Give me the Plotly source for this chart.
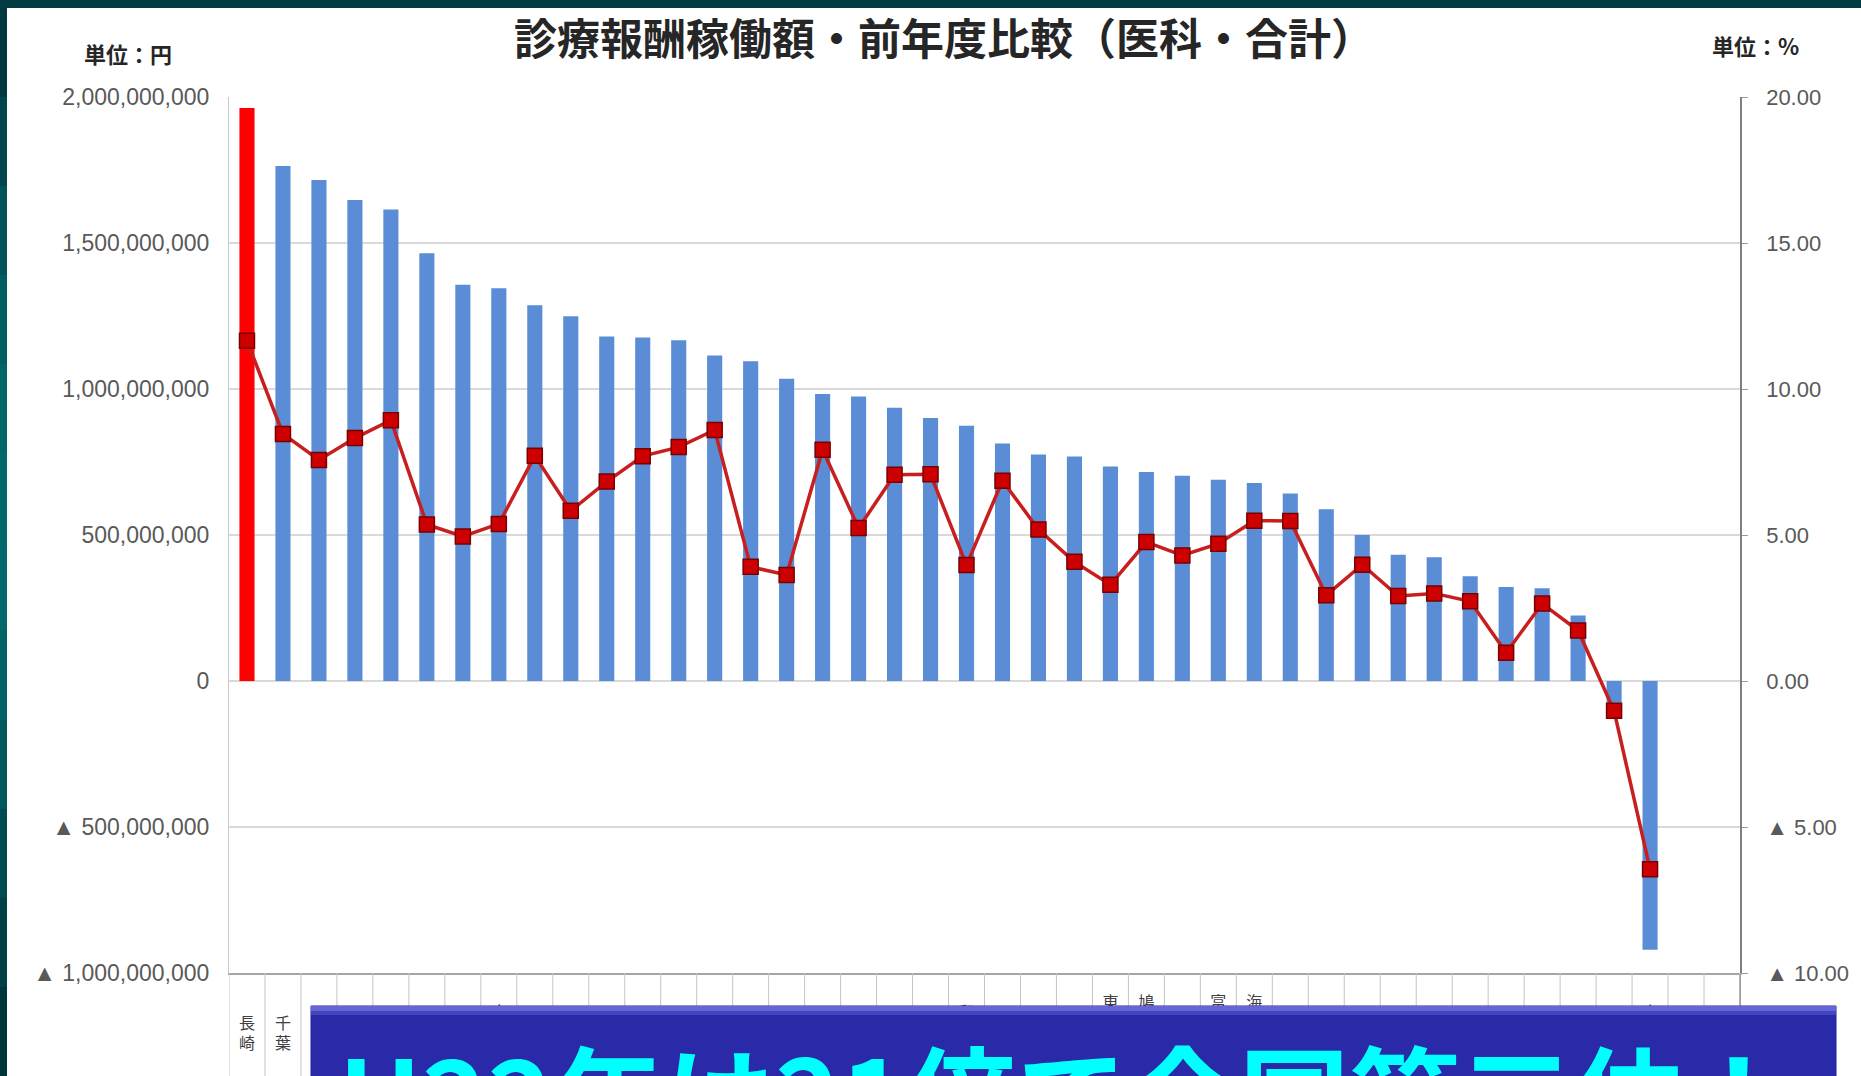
import plotly.graph_objects as go

# ---------------- data ----------------
categories = ["長崎", "千葉", "福岡", "熊本", "大分", "佐賀", "宮崎", "鹿児島", "山口", "広島",
              "岡山", "島根", "香川", "兵庫", "大阪", "京都", "奈良", "滋賀", "三重", "愛知",
              "和歌山", "岐阜", "静岡", "長野", "東久留米", "鳩ヶ谷市", "山梨", "富士吉田", "海老名市", "新潟",
              "石川", "福井", "群馬", "栃木", "茨城", "埼玉", "宮城", "岩手", "青森", "小田原"]

amount_yen = [1.962e9, 1.764e9, 1.716e9, 1.647e9, 1.615e9, 1.465e9, 1.357e9, 1.345e9, 1.287e9, 1.249e9,
              1.180e9, 1.176e9, 1.167e9, 1.115e9, 1.095e9, 1.035e9, 0.983e9, 0.974e9, 0.936e9, 0.901e9,
              0.874e9, 0.813e9, 0.776e9, 0.769e9, 0.735e9, 0.716e9, 0.703e9, 0.689e9, 0.678e9, 0.642e9,
              0.588e9, 0.500e9, 0.432e9, 0.424e9, 0.359e9, 0.322e9, 0.318e9, 0.224e9, -0.075e9, -0.920e9]

ratio_pct = [11.65, 8.46, 7.57, 8.32, 8.93, 5.36, 4.95, 5.38, 7.71, 5.83,
             6.83, 7.70, 8.01, 8.60, 3.91, 3.63, 7.92, 5.24, 7.06, 7.08,
             3.97, 6.86, 5.19, 4.08, 3.30, 4.76, 4.30, 4.70, 5.49, 5.48,
             2.94, 3.98, 2.91, 3.00, 2.73, 0.97, 2.65, 1.73, -1.02, -6.45]

left_tickvals = [-1e9, -5e8, 0, 5e8, 1e9, 1.5e9, 2e9]
left_ticktext = ["▲ 1,000,000,000", "▲ 500,000,000", "0", "500,000,000",
                 "1,000,000,000", "1,500,000,000", "2,000,000,000"]
right_tickvals = [-10, -5, 0, 5, 10, 15, 20]
right_ticktext = ["▲ 10.00", "▲ 5.00", "0.00", "5.00", "10.00", "15.00", "20.00"]

title_text = "診療報酬稼働額・前年度比較（医科・合計）"
unit_left = "単位：円"
unit_right = "単位：%"
banner_text = "H22年は21倍で全国第三位！"

# ---------------- geometry helpers ----------------
W, H = 1861, 1076
PL, PR, PT, PB = 229, 1740, 97, 973      # main plot area in px
N_SLOTS = 42
MAIN_BOTTOM = (H - PB) / (H - PT)        # paper fraction where main plot starts
LABEL_CENTER_PX = 1035


def px_x(x):
    return (x - PL) / (PR - PL)


def px_y(y):
    return (H - y) / (H - PT)


BLUE = "#5a8dd5"
RED = "#ff0000"
bar_colors = [RED if i == 0 else BLUE for i in range(len(categories))]
vertical_labels = ["<br>".join(list(c)) for c in categories]
label_pos = (H - LABEL_CENTER_PX) / (H - PB)

fig = go.Figure()

fig.add_trace(go.Bar(x=categories, y=amount_yen, marker=dict(color=bar_colors, line=dict(width=0)),
                     hoverinfo="skip", showlegend=False))

fig.add_trace(go.Scatter(x=categories, y=ratio_pct, yaxis="y2", mode="lines+markers",
                         line=dict(color="#c81e1e", width=3.5),
                         marker=dict(symbol="square", size=15, color="#cc0000",
                                     line=dict(color="#7a0000", width=1.5)),
                         hoverinfo="skip", showlegend=False))

fig.add_trace(go.Scatter(x=categories, y=[label_pos] * len(categories), yaxis="y3", mode="text",
                         text=vertical_labels, textposition="middle center",
                         textfont=dict(size=16, color="#404040", family="Noto Sans CJK JP"),
                         cliponaxis=False, hoverinfo="skip", showlegend=False))

shapes = []
# white slide
shapes.append(dict(type="rect", xref="paper", yref="paper", layer="below",
                   x0=px_x(7), x1=px_x(W + 20), y0=px_y(H + 20), y1=px_y(8),
                   fillcolor="white", line=dict(width=0)))
# left teal gradient strip
strip_cols = ["#003a40", "#00464c", "#005359", "#005e62", "#006668", "#00696a",
              "#00686a", "#006264", "#00585c", "#004b50", "#003f44", "#00363b"]
band_h = (H - 8) / len(strip_cols)
for i, c in enumerate(strip_cols):
    shapes.append(dict(type="rect", xref="paper", yref="paper", layer="below",
                       x0=px_x(-2), x1=px_x(7), y0=px_y(8 + (i + 1) * band_h + 1), y1=px_y(8 + i * band_h),
                       fillcolor=c, line=dict(width=0)))
# category separators in label area
for i in range(N_SLOTS + 1):
    shapes.append(dict(type="line", xref="x", yref="y3", layer="below",
                       x0=i - 0.5, x1=i - 0.5, y0=-0.1, y1=1,
                       line=dict(color="#c4c4c4", width=1)))
# right axis line extension
shapes.append(dict(type="line", xref="paper", yref="y3", layer="below",
                   x0=1, x1=1, y0=-0.1, y1=1, line=dict(color="#808080", width=1.5)))
# blue banner
shapes.append(dict(type="rect", xref="paper", yref="paper", layer="above",
                   x0=px_x(311), x1=px_x(1836), y0=px_y(H + 20), y1=px_y(1006),
                   fillcolor="#2a2aa8", line=dict(color="#22229a", width=1)))
shapes.append(dict(type="rect", xref="paper", yref="paper", layer="above",
                   x0=px_x(311), x1=px_x(1836), y0=px_y(1011), y1=px_y(1006),
                   fillcolor="#6565d6", line=dict(width=0)))
shapes.append(dict(type="rect", xref="paper", yref="paper", layer="above",
                   x0=px_x(311), x1=px_x(1836), y0=px_y(1015), y1=px_y(1011),
                   fillcolor="#4444bf", line=dict(width=0)))

annotations = [
    dict(text=title_text, xref="paper", yref="paper", x=px_x(944), y=px_y(36),
         xanchor="center", yanchor="middle", showarrow=False,
         font=dict(size=43, color="#262626", family="Noto Sans CJK JP", weight=700)),
    dict(text=unit_left, xref="paper", yref="paper", x=px_x(128), y=px_y(53),
         xanchor="center", yanchor="middle", showarrow=False,
         font=dict(size=22, color="#262626", family="Noto Sans CJK JP", weight=700)),
    dict(text=unit_right, xref="paper", yref="paper", x=px_x(1756), y=px_y(45),
         xanchor="center", yanchor="middle", showarrow=False,
         font=dict(size=22, color="#262626", family="Noto Sans CJK JP", weight=700)),
    dict(text=banner_text, xref="paper", yref="paper", x=px_x(336), y=px_y(1010),
         xanchor="left", yanchor="top", showarrow=False,
         font=dict(size=111, color="#00ffff", family="Noto Sans CJK JP", weight=700)),
]

fig.update_layout(
    width=W, height=H,
    margin=dict(l=PL, r=W - PR, t=PT, b=0, pad=0, autoexpand=False),
    paper_bgcolor="#003c42", plot_bgcolor="rgba(0,0,0,0)",
    bargap=0.58, showlegend=False,
    font=dict(family="Liberation Sans"),
    xaxis=dict(type="category", range=[-0.5, N_SLOTS - 0.5], showticklabels=False,
               showgrid=False, zeroline=False, showline=True, linecolor="#a6a6a6",
               linewidth=1.5, ticks="", anchor="y", automargin=False),
    yaxis=dict(domain=[MAIN_BOTTOM, 1], range=[left_tickvals[0], left_tickvals[-1]],
               tickvals=left_tickvals, ticktext=left_ticktext,
               showgrid=True, gridcolor="#d9d9d9", gridwidth=1.5, zeroline=False,
               showline=True, linecolor="#c8c8c8", linewidth=1, ticks="", automargin=False,
               ticklabelstandoff=14, tickfont=dict(size=23, color="#595959", family="Liberation Sans")),
    yaxis2=dict(range=[-10, 20], overlaying="y", side="right", tickvals=right_tickvals,
                ticktext=right_ticktext, showgrid=False, zeroline=False, showline=True,
                linecolor="#808080", linewidth=1.5, ticks="outside", ticklen=6, automargin=False,
                tickcolor="#9a9a9a", ticklabelstandoff=14,
                tickfont=dict(size=22, color="#595959", family="Liberation Sans")),
    yaxis3=dict(domain=[0, MAIN_BOTTOM], range=[0, 1], visible=False, anchor="x",
                fixedrange=True),
    shapes=shapes,
    annotations=annotations,
)

fig.write_html("out.html", config={"displayModeBar": False},
               post_script="document.body.style.margin='0px';document.body.style.overflow='hidden';")
